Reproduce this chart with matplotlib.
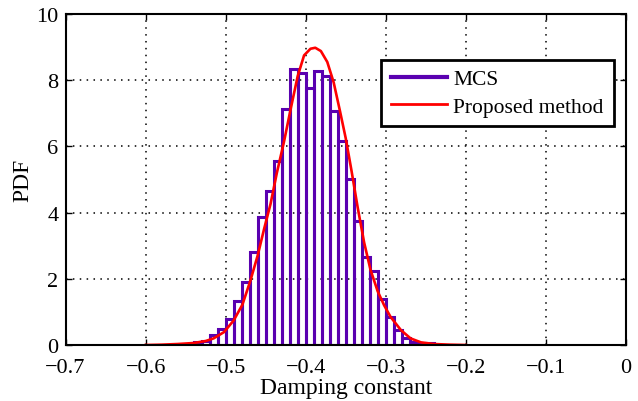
import matplotlib
matplotlib.use("Agg")
import matplotlib.pyplot as plt
from matplotlib.lines import Line2D

plt.rcParams['font.family'] = ['Liberation Serif', 'DejaVu Serif']
plt.rcParams['mathtext.fontset'] = 'stix'

# MCS histogram (bin centers, PDF heights), bin width 0.01
bin_centers = [-0.535, -0.525, -0.515, -0.505, -0.495, -0.485, -0.475, -0.465,
               -0.455, -0.445, -0.435, -0.425, -0.415, -0.405, -0.395, -0.385,
               -0.375, -0.365, -0.355, -0.345, -0.335, -0.325, -0.315, -0.305,
               -0.295, -0.285, -0.275, -0.265, -0.255, -0.245]
mcs_pdf = [0.10, 0.12, 0.30, 0.47, 0.80, 1.33, 1.89, 2.82,
           3.86, 4.65, 5.55, 7.14, 8.33, 8.23, 7.75, 8.28,
           8.12, 7.06, 6.15, 5.02, 3.75, 2.65, 2.25, 1.40,
           0.86, 0.44, 0.20, 0.10, 0.07, 0.05]
bin_width = 0.01

# Proposed method PDF curve
curve_x = [-0.600, -0.580, -0.560, -0.540, -0.525, -0.515, -0.502, -0.490,
           -0.479, -0.469, -0.460, -0.452, -0.444, -0.436, -0.427, -0.419,
           -0.410, -0.402, -0.394, -0.388, -0.381, -0.373, -0.365, -0.357,
           -0.350, -0.343, -0.335, -0.327, -0.319, -0.310, -0.302, -0.294,
           -0.281, -0.269, -0.256, -0.240, -0.220, -0.200]
curve_y = [0.00, 0.01, 0.03, 0.06, 0.12, 0.20, 0.39, 0.74,
           1.22, 1.95, 2.70, 3.50, 4.25, 5.20, 6.15, 7.10,
           8.12, 8.75, 8.95, 8.98, 8.88, 8.55, 7.93, 7.05,
           6.25, 5.30, 4.15, 3.10, 2.27, 1.62, 1.20, 0.85,
           0.45, 0.20, 0.08, 0.03, 0.01, 0.00]

xticks = [-0.7, -0.6, -0.5, -0.4, -0.3, -0.2, -0.1, 0]
xticklabels = ['\u22120.7', '\u22120.6', '\u22120.5', '\u22120.4', '\u22120.3',
               '\u22120.2', '\u22120.1', '0']
yticks = [0, 2, 4, 6, 8, 10]

purple = '#5a00b0'
red = '#ff0000'

fig = plt.figure(figsize=(6.38, 4.02), dpi=100)
ax = fig.add_axes([0.1027, 0.1393, 0.8783, 0.8234])

ax.bar(bin_centers, mcs_pdf, width=bin_width, fill=False,
       edgecolor=purple, linewidth=2.2, zorder=3)
ax.plot(curve_x, curve_y, color=red, linewidth=1.9, zorder=4)

ax.set_xlim(-0.7, 0)
ax.set_ylim(0, 10)
ax.set_xticks(xticks)
ax.set_xticklabels(xticklabels)
ax.set_yticks(yticks)
ax.grid(True, color='black', linestyle=(0, (1, 3.5)), linewidth=1.1, zorder=1)
ax.set_axisbelow(True)
ax.tick_params(direction='in', length=4, width=1, labelsize=16,
               top=True, right=True)
ax.tick_params(axis='x', pad=9)
ax.tick_params(axis='y', pad=5)
for s in ax.spines.values():
    s.set_linewidth(1.5)
    s.set_zorder(5)

ax.set_xlabel('Damping constant', fontsize=17, labelpad=0)
ax.set_ylabel('PDF', fontsize=17, labelpad=2)

handles = [Line2D([0], [0], color=purple, linewidth=3.0),
           Line2D([0], [0], color=red, linewidth=2.0)]
leg = ax.legend(handles, ['MCS', 'Proposed method'], loc='upper right',
                bbox_to_anchor=(0.978, 0.862), fontsize=15.5, frameon=True,
                fancybox=False, framealpha=1, edgecolor='black',
                handlelength=2.6, handletextpad=0.3, borderpad=0.45,
                labelspacing=0.33, borderaxespad=0)
leg.get_frame().set_linewidth(2.0)
leg.set_zorder(6)

fig.savefig('out.png', dpi=100)
